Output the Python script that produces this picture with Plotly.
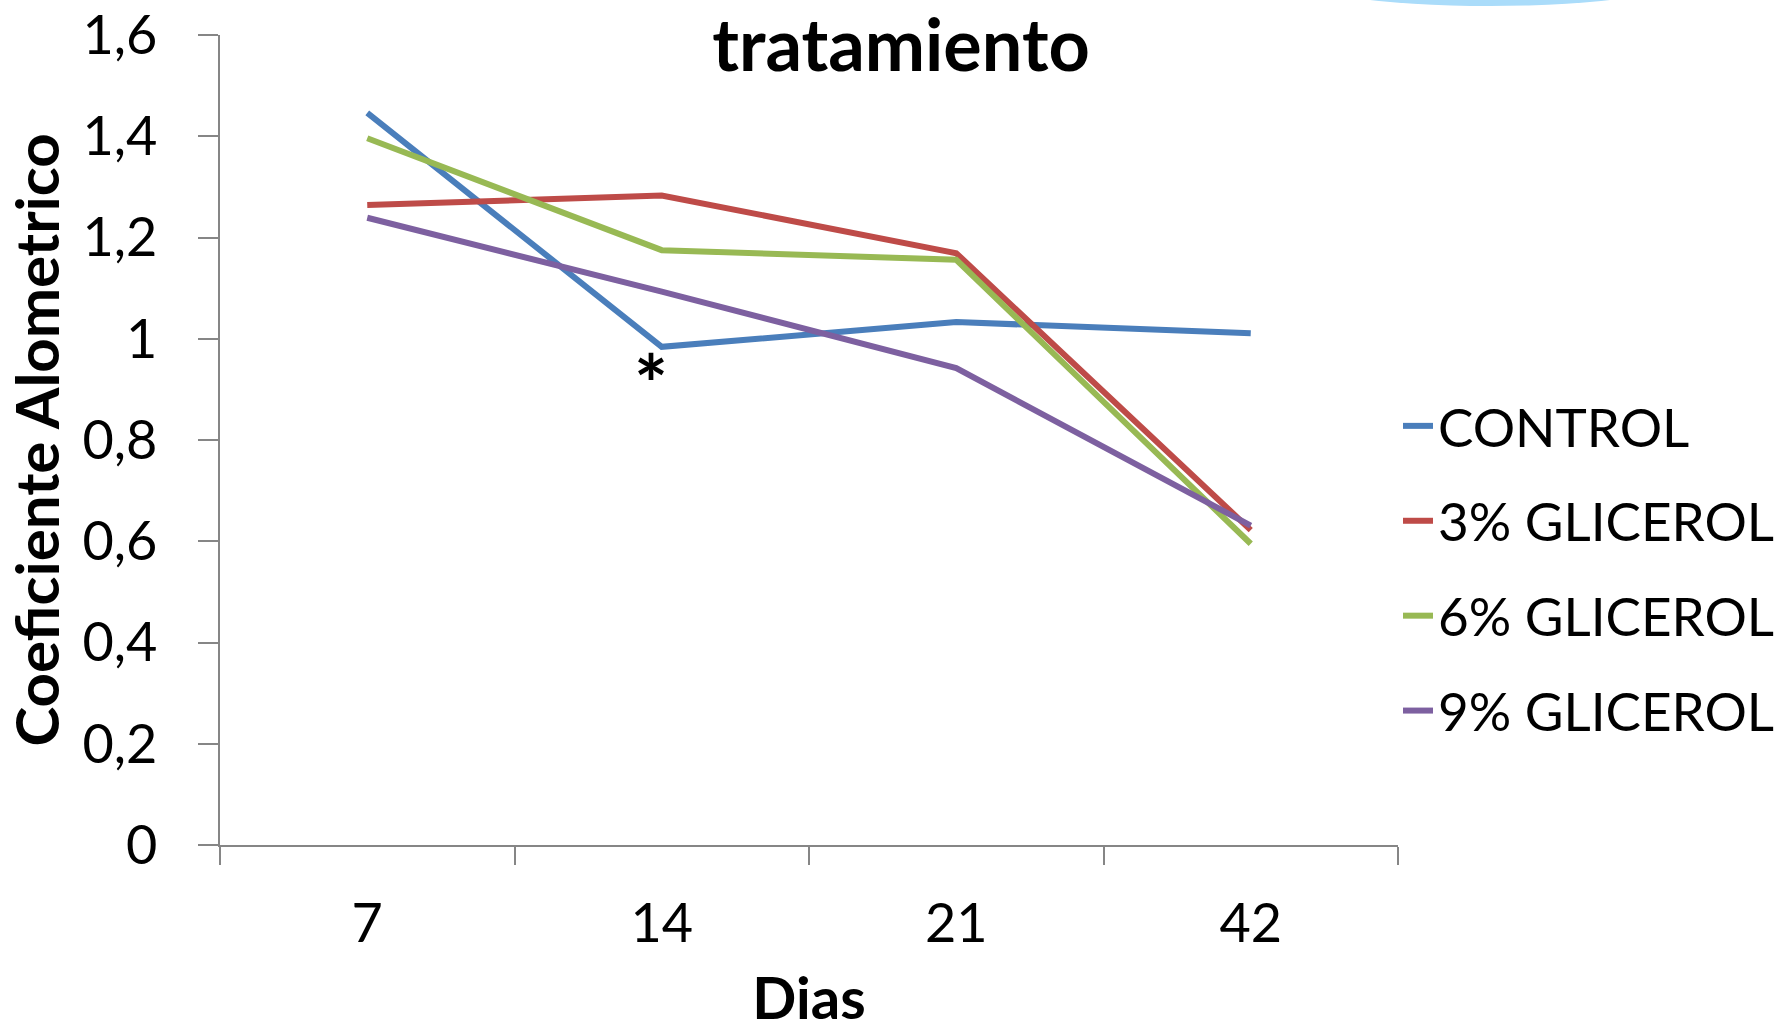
import plotly.graph_objects as go

dias = ["7", "14", "21", "42"]
control = [1.446, 0.984, 1.033, 1.011]
glicerol_3 = [1.264, 1.283, 1.169, 0.622]
glicerol_6 = [1.396, 1.175, 1.156, 0.595]
glicerol_9 = [1.239, 1.093, 0.942, 0.631]

series_names = ["CONTROL", "3% GLICEROL", "6% GLICEROL", "9% GLICEROL"]
series_values = [control, glicerol_3, glicerol_6, glicerol_9]
colors = ["#4a7ebb", "#be4b48", "#98b954", "#7d60a0"]

FONT = "Lato"
W, H = 1787, 1031
L, R, T, B = 220, 389, 35, 186

fig = go.Figure()
for i, (name, vals, col) in enumerate(zip(series_names, series_values, colors)):
    fig.add_trace(go.Scatter(
        x=dias, y=vals, mode="lines", name=name,
        line=dict(color=col, width=6),
        legendgroup=f"g{i}",
    ))

# significance marker under CONTROL at day 14 (category index 1)
fig.add_annotation(x=dias.index("14"), y=0.949, xref="x", yref="y", text="<b>*</b>",
                   showarrow=False, xshift=-11, yshift=-18,
                   font=dict(family=FONT, size=80, color="black"))

# decorative light-blue ellipse at top edge
fig.add_shape(type="circle", xref="paper", yref="paper",
              x0=(1290 - L) / (W - L - R), x1=(1690 - L) / (W - L - R),
              y0=(H - B - 6) / (H - T - B), y1=(H - B + 54) / (H - T - B),
              fillcolor="#aadcfa", line=dict(width=0), layer="above")

fig.update_layout(
    width=W, height=H,
    margin=dict(l=L, r=R, t=T, b=B, autoexpand=False),
    paper_bgcolor="white", plot_bgcolor="white",
    separators=", ",
    font=dict(family=FONT, color="black"),
    title=dict(text="<b>tratamiento</b>", x=(901 - L) / (W - L - R), xref="paper",
               y=(H - B - 46) / (H - T - B), yref="paper",
               xanchor="center", yanchor="middle",
               font=dict(family=FONT, size=72, color="black")),
    showlegend=True,
    legend=dict(x=(1398 - L) / (W - L - R), xanchor="left",
                y=0.568, yanchor="top",
                font=dict(family=FONT, size=53, color="black"),
                traceorder="grouped", tracegroupgap=23,
                bgcolor="rgba(0,0,0,0)"),
)

fig.update_xaxes(
    type="category", range=[-0.5, 3.5],
    showline=True, linecolor="#868686", linewidth=2,
    ticks="outside", ticklen=18, tickcolor="#868686", tickwidth=1.5,
    tickson="boundaries", showgrid=False, zeroline=False,
    tickfont=dict(family=FONT, size=54, color="black"),
    ticklabelstandoff=30,
    title=dict(text="<b>Dias</b>", standoff=32,
               font=dict(family=FONT, size=58, color="black")),
)
fig.update_yaxes(
    range=[0, 1.6], dtick=0.2, tick0=0,
    showline=True, linecolor="#868686", linewidth=1.5,
    ticks="outside", ticklen=20, tickcolor="#868686", tickwidth=1.5,
    showgrid=False, zeroline=False,
    tickfont=dict(family=FONT, size=54, color="black"),
    ticklabelstandoff=30,
    title=dict(text="<b>Coeficiente Alometrico</b>", standoff=8,
               font=dict(family=FONT, size=60, color="black")),
)

fig.write_html("out.html")
